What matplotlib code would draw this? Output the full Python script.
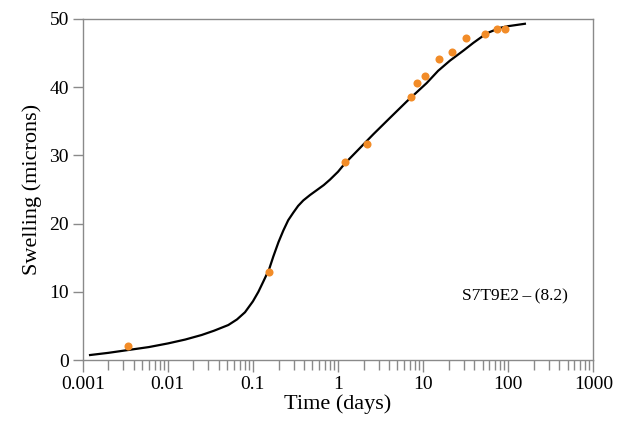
import matplotlib
matplotlib.use("Agg")
import matplotlib.pyplot as plt
from matplotlib.ticker import LogLocator, FixedLocator, NullFormatter

plt.rcParams['font.family'] = ['Liberation Serif', 'DejaVu Serif']

# measured data points
obs_time = [0.00344, 0.1546, 1.2, 2.21, 7.27, 8.41, 10.4, 15.4, 22.0, 31.6, 53.0, 73.8, 92.4]
obs_swell = [2.1, 12.86, 29.0, 31.6, 38.6, 40.6, 41.6, 44.2, 45.2, 47.2, 47.8, 48.6, 48.6]

# fitted curve
fit_time = [0.00122, 0.002, 0.00344, 0.006, 0.0101, 0.016, 0.025, 0.035, 0.0514,
            0.065, 0.0807, 0.1, 0.116, 0.1325, 0.155, 0.174, 0.2, 0.228, 0.26,
            0.298, 0.34, 0.391, 0.47, 0.562, 0.68, 0.805, 1.0, 1.2, 1.66, 2.6,
            4.0, 6.41, 11.0, 15.0, 20.7, 30.0, 38.9, 55.8, 80.0, 100.0, 138.0, 157.0]
fit_swell = [0.73, 1.05, 1.47, 1.9, 2.44, 3.0, 3.67, 4.3, 5.13,
             5.95, 7.0, 8.6, 10.0, 11.5, 13.3, 15.2, 17.3, 19.0, 20.5,
             21.6, 22.6, 23.4, 24.2, 24.9, 25.65, 26.45, 27.6, 28.8, 30.6, 33.1,
             35.4, 37.9, 40.6, 42.4, 43.9, 45.4, 46.5, 47.9, 48.7, 48.95, 49.2, 49.3]

x_ticks = [0.001, 0.01, 0.1, 1, 10, 100, 1000]
x_tick_labels = ["0.001", "0.01", "0.1", "1", "10", "100", "1000"]
y_ticks = [0, 10, 20, 30, 40, 50]

fig = plt.figure(figsize=(6.26, 4.24), dpi=100)
ax = fig.add_axes([0.1321, 0.1509, 0.8157, 0.8043])

ax.plot(fit_time, fit_swell, color="black", lw=1.6, zorder=2,
        solid_joinstyle="round")
ax.plot(obs_time, obs_swell, "o", color="#F28C28", markersize=5.8, markeredgewidth=0, zorder=3)

ax.set_xscale("log")
ax.set_xlim(0.001, 1000)
ax.set_ylim(0, 50)
ax.xaxis.set_major_locator(FixedLocator(x_ticks))
ax.set_xticklabels(x_tick_labels)
ax.xaxis.set_minor_locator(LogLocator(base=10, subs=range(2, 10), numticks=20))
ax.xaxis.set_minor_formatter(NullFormatter())
ax.set_yticks(y_ticks)

for s in ax.spines.values():
    s.set_color("#8a8a8a")
    s.set_linewidth(1.0)

ax.tick_params(axis="x", which="major", direction="out", length=8.5, width=1.0,
               color="#8a8a8a", labelsize=14, pad=3)
ax.tick_params(axis="x", which="minor", direction="out", length=7, width=1.0,
               color="#8a8a8a")
ax.tick_params(axis="y", which="major", direction="out", length=7, width=1.0,
               color="#8a8a8a", labelsize=14, pad=3)
ax.tick_params(top=False, right=False, which="both")

ax.set_xlabel("Time (days)", fontsize=16, labelpad=1)
ax.set_ylabel("Swelling (microns)", fontsize=16, labelpad=5)

ax.text(0.95, 0.188, "S7T9E2\u2009\u2013\u2009(8.2)", transform=ax.transAxes,
        ha="right", va="center", fontsize=12.5)

fig.savefig("out.png", dpi=100)
